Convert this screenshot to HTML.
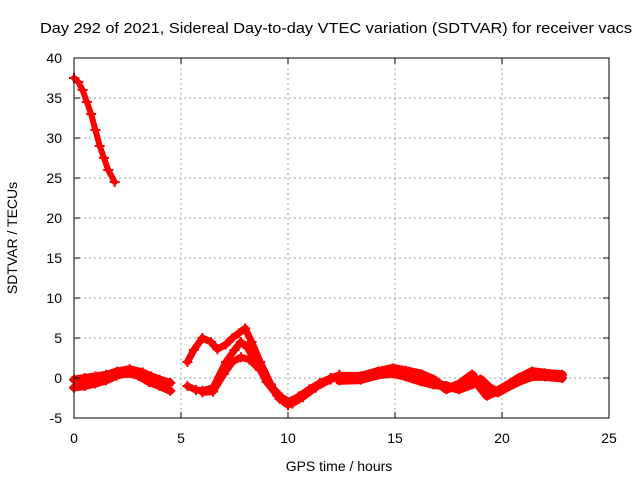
<!DOCTYPE html>
<html><head><meta charset="utf-8"><style>
body{margin:0;background:#fff;font-family:"Liberation Sans",sans-serif;}
svg{display:block}
</style></head><body>
<svg id="chart" width="640" height="480" font-family="Liberation Sans, sans-serif" font-size="14">
<text x="336" y="33" text-anchor="middle" textLength="592" lengthAdjust="spacingAndGlyphs" font-size="15">Day 292 of 2021, Sidereal Day-to-day VTEC variation (SDTVAR) for receiver vacs</text>
<g id="grid"></g>
<g id="series"></g>
<rect x="74" y="58" width="535" height="360" fill="none" stroke="#000"/>
<g id="ticks"></g>
<text x="339" y="471" text-anchor="middle">GPS time / hours</text>
<text transform="translate(17,238) rotate(-90)" text-anchor="middle">SDTVAR / TECUs</text>
</svg>
<script>
const xTicks=[0,5,10,15,20,25];
const yTicks=[-5,0,5,10,15,20,25,30,35,40];
const s1h=[0,0.2,0.4,0.6,0.8,1.0,1.2,1.4,1.6,1.9];
const s1v=[37.5,37,36,34.5,33,31,29,27.5,26,24.5];
const s2h=[0,0.5,1,1.5,2,2.5,3,3.5,4,4.5];
const s2v=[-1.2,-1,-0.7,-0.3,0.3,0.6,0.3,-0.5,-1,-1.6];
const s3h=[0,0.5,1,1.5,2,2.6,3.2,3.6,4,4.5];
const s3v=[-0.2,0,0.2,0.4,0.8,1.1,0.7,0.2,-0.2,-0.6];
const s4h=[5.3,5.6,6.0,6.4,6.7,7.1,7.4,7.7,8.0,8.3,8.7,9.2,9.6,10.0,10.5,11,11.5,12,12.4];
const s4v=[2,3.5,5,4.5,3.6,4.2,5,5.6,6.2,4.5,2,-0.8,-2.6,-3.4,-2.6,-1.6,-0.6,0,0.4];
const s5h=[5.3,5.7,6.0,6.5,7.1,7.5,7.8,8.1,8.5,9.0,9.5,10,10.5,11,11.5,12,12.4];
const s5v=[-1,-1.5,-1.6,-1.2,2,3.5,4.5,3.8,2,-0.5,-2.2,-3,-2.3,-1.4,-0.6,0,0.3];
const s6h=[6.0,6.5,7.0,7.4,7.8,8.2,8.7,9.2,9.7,10.2,10.7,11.3,12,12.4];
const s6v=[-1.8,-1.7,0.5,2,2.6,2.3,1,-1,-2.4,-3.2,-2.4,-1.2,-0.2,0.2];
const s7h=[12.4,13.4,14.2,14.9,15.5,16.2,16.8,17.4,18.0,18.6,19.0,19.3,19.8,20.2,20.8,21.4,22,22.8];
const s7v=[0.2,0.2,0.8,1.2,0.9,0.5,-0.2,-1.4,-0.8,0.4,-1.2,-2.2,-1.6,-1,0,0.8,0.6,0.4];
const s8h=[12.4,13.4,14.2,14.9,15.5,16.2,16.8,17.4,18.0,18.6,19.0,19.4,19.8,20.2,20.8,21.4,22,22.8];
const s8v=[-0.3,-0.2,0.4,0.6,0.2,-0.4,-0.8,-1.0,-1.4,-0.8,-0.2,-1.2,-1.8,-1.2,-0.4,0.2,0.2,0];
const X=h=>74+h*535/25;
const Y=v=>418-(v+5)*8;
const NS='http://www.w3.org/2000/svg';
const grid=document.getElementById('grid'),ticks=document.getElementById('ticks'),ser=document.getElementById('series');
function mk(t,a,p){const e=document.createElementNS(NS,t);for(const k in a)e.setAttribute(k,a[k]);p.appendChild(e);return e;}
xTicks.forEach(t=>{
 if(t>0&&t<25){const g=mk('line',{x1:X(t),x2:X(t),y1:58,y2:418,stroke:'#a0a0a0','stroke-dasharray':'2,3'},grid);
 
 }
 mk('line',{x1:X(t),x2:X(t),y1:418,y2:412,stroke:'#000'},ticks);
 mk('line',{x1:X(t),x2:X(t),y1:58,y2:64,stroke:'#000'},ticks);
 const l=mk('text',{x:X(t),y:443,'text-anchor':'middle'},ticks);l.textContent=t;
 
 
});
yTicks.forEach(t=>{
 if(t>-5&&t<40){const g=mk('line',{x1:74,x2:609,y1:Y(t),y2:Y(t),stroke:'#a0a0a0','stroke-dasharray':'2,3'},grid);
 
 }
 mk('line',{x1:74,x2:80,y1:Y(t),y2:Y(t),stroke:'#000'},ticks);
 mk('line',{x1:609,x2:603,y1:Y(t),y2:Y(t),stroke:'#000'},ticks);
 const l=mk('text',{x:62,y:Y(t)+5,'text-anchor':'end'},ticks);l.textContent=t;
 
 
});
const all=[[s1h,s1v,6],[s2h,s2v,8],[s3h,s3v,8],[s4h,s4v,7],[s5h,s5v,7],[s6h,s6v,7],[s7h,s7v,9],[s8h,s8v,9]];
all.forEach(([hs,vs,w],i)=>{
 const p=mk('polyline',{points:hs.map((h,j)=>X(h)+','+Y(vs[j])).join(' '),fill:'none',stroke:'#f00','stroke-width':w,'stroke-linejoin':'round','stroke-linecap':'round'},ser);
 
 
 hs.forEach((h,j)=>{
  const c=mk('path',{d:`M${X(h)-5},${Y(vs[j])}h10M${X(h)},${Y(vs[j])-5}v10`,stroke:'#f00','stroke-width':2},ser);
  
  
 });
});
</script>
</body></html>
